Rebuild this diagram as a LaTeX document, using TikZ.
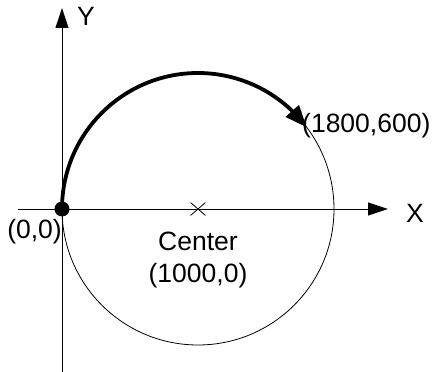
\documentclass[tikz,border=0pt]{standalone}
\usepackage{fontspec}
\setmainfont{Liberation Sans}
\usetikzlibrary{arrows.meta,shapes.misc,bending}
\begin{document}
\begin{tikzpicture}[x=1pt,y=1pt,
  axis/.style={line width=0.9pt,-{Triangle[length=20pt,width=13pt]}},
  thin circle/.style={line width=0.8pt},
  movepath/.style={line width=3.8pt,-{Triangle[length=22pt,width=17pt,flex]}},
  lbl/.style={font=\fontsize{26.5}{31}\selectfont,inner sep=0pt},
  dot/.style={circle,fill=black,inner sep=0pt,minimum size=15pt},
  centermark/.style={cross out,draw,line width=0.8pt,inner sep=0pt,minimum width=14pt,minimum height=12pt}]
\useasboundingbox (-62,-163) rectangle (370,209);
% coordinates
\coordinate (O) at (0,0);
\coordinate (ybot) at (0,-163);
\coordinate (ytop) at (0,201);
\coordinate (xleft) at (-44,0);
\coordinate (xright) at (326,0);
\node[centermark] (C) at (136,0) {};
\coordinate (P) at (244.8,81.6);
% circle
\draw[thin circle] (C) circle[radius=136pt];
% axes
\draw[axis] (ybot) -- (ytop);
\draw[axis] (xleft) -- (xright);
% movement arc
\draw[movepath] (O) arc[start angle=180,end angle=36.87,radius=136pt];
\node[dot] (Odot) at (O) {};
% labels
\node[lbl,anchor=base] (ylab) at (24,183) {Y};
\node[lbl,anchor=base] (xlab) at (353,-14) {X};
\node[lbl,anchor=base east] (olab) at (0,-30) {(0,0)};
\node[lbl,anchor=base] (clab) at (136,-42) {Center};
\node[lbl,anchor=base] (cclab) at (136,-74) {(1000,0)};
\node[lbl,anchor=base west] (plab) at (240,76) {(1800,600)};
\end{tikzpicture}
\end{document}
